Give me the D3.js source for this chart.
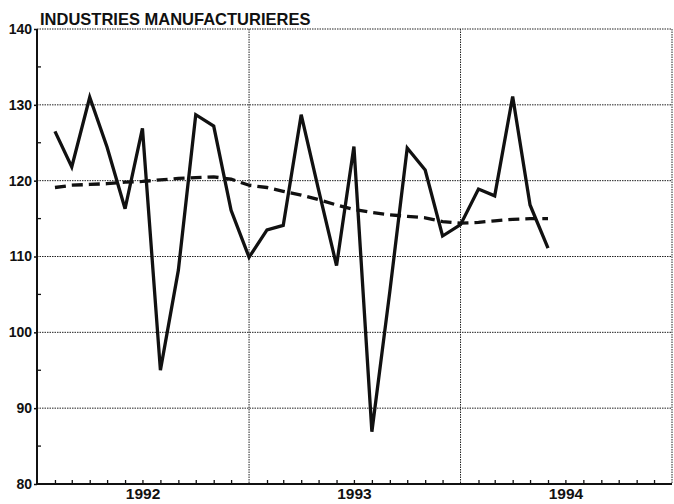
<!DOCTYPE html>
<html>
<head>
<meta charset="utf-8">
<script src="https://cdn.jsdelivr.net/npm/d3@7"></script>
<style>
  body { margin: 0; background: #fff; }
  svg { font-family: "Liberation Sans", Arial, sans-serif; }
  .grid line { stroke: #222; stroke-width: 1; stroke-dasharray: 1.5,1; }
</style>
</head>
<body>
<svg width="674" height="504"></svg>
<script>
// months Feb 1992 .. Jun 1994
const months = ["1992-02","1992-03","1992-04","1992-05","1992-06","1992-07","1992-08","1992-09","1992-10","1992-11","1992-12",
  "1993-01","1993-02","1993-03","1993-04","1993-05","1993-06","1993-07","1993-08","1993-09","1993-10","1993-11","1993-12",
  "1994-01","1994-02","1994-03","1994-04","1994-05","1994-06"];
const raw = [126.5,121.8,131,124.4,116.3,126.9,95,108.2,128.7,127.2,116.1,
  109.9,113.5,114.1,128.7,118.8,108.8,124.5,86.9,105.4,124.3,121.4,112.7,
  114.2,118.9,118.0,131.1,116.8,111.1];
const trend = [119.1,119.4,119.5,119.6,119.8,119.9,120.1,120.3,120.4,120.5,120.2,
  119.4,119.1,118.6,118.1,117.5,116.8,116.2,115.8,115.5,115.3,115.1,114.6,
  114.4,114.5,114.7,114.9,115.0,115.0];
const years = ["1992","1993","1994"];
const yTicks = [80,90,100,110,120,130,140];
const yMinor = [85,95,105,115,125,135];
const title = "INDUSTRIES MANUFACTURIERES";

const svg = d3.select('svg');
const parse = d3.timeParse('%Y-%m');
const m = { left: 37, right: 672, top: 29, bottom: 484 };

const x = d3.scaleTime()
  .domain([new Date(1992,0,1), new Date(1995,0,1)])
  .range([m.left, m.right]);
const y = d3.scaleLinear().domain([80,140]).range([m.bottom, m.top]);

// horizontal grid
svg.append('g').attr('class','grid')
  .selectAll('line').data(yTicks.slice(1)).enter().append('line')
    .attr('x1', m.left).attr('x2', m.right)
    .attr('y1', d => y(d)).attr('y2', d => y(d));

// vertical grid at year starts + right edge
const yearStarts = [new Date(1993,0,1), new Date(1994,0,1), new Date(1995,0,1)];
svg.append('g').attr('class','grid')
  .selectAll('line').data(yearStarts).enter().append('line')
    .attr('x1', d => x(d)).attr('x2', d => x(d))
    .attr('y1', m.top).attr('y2', m.bottom);

// monthly ticks on bottom axis
const monthTicks = d3.timeMonth.range(new Date(1992,1,1), new Date(1995,0,1))
  .filter(d => d.getMonth() !== 0);
const xAxis = d3.axisBottom(x).tickValues(monthTicks).tickSize(-4).tickFormat('');
const xg = svg.append('g').attr('transform', `translate(0,${m.bottom})`).call(xAxis);
xg.select('.domain').remove();
xg.selectAll('.tick line').attr('stroke','#111').attr('stroke-width',1.3);

// left axis
const yAxis = d3.axisLeft(y).tickValues(yTicks).tickSize(3).tickPadding(2).tickFormat(d3.format('d'));
const yg = svg.append('g').attr('transform', `translate(${m.left},0)`).call(yAxis);
yg.select('.domain').remove();
yg.selectAll('.tick line').attr('stroke','#111').attr('stroke-width',1.5);
yg.selectAll('.tick text')
  .attr('font-size', 14).attr('font-weight','bold').attr('fill','#111')
  .attr('font-family','"Liberation Sans", Arial, sans-serif');

svg.append('g').selectAll('line').data(yMinor).enter().append('line')
  .attr('x1', m.left).attr('x2', m.left + 4)
  .attr('y1', d => y(d)).attr('y2', d => y(d))
  .attr('stroke','#111').attr('stroke-width',1.3);

// axis lines
svg.append('line').attr('x1', m.left).attr('x2', m.left).attr('y1', m.top).attr('y2', m.bottom + 1)
  .attr('stroke','#111').attr('stroke-width',2);
svg.append('line').attr('x1', m.left).attr('x2', m.right).attr('y1', m.bottom).attr('y2', m.bottom)
  .attr('stroke','#111').attr('stroke-width',2);

// year labels, centred on each year
svg.append('g').selectAll('text').data(years).enter().append('text')
  .attr('x', d => x(new Date(+d, 6, 2)))
  .attr('y', 499)
  .attr('text-anchor','middle')
  .attr('font-size', 15.5)
  .attr('font-weight','bold')
  .attr('fill','#111')
  .text(d => d);

// title
svg.append('text')
  .attr('x', 40).attr('y', 25)
  .attr('font-size', 16.5).attr('font-weight','bold').attr('fill','#111')
  .text(title);

const rows = months.map((mo, i) => ({ date: parse(mo), raw: raw[i], trend: trend[i] }));

const lineRaw = d3.line().x(d => x(d.date)).y(d => y(d.raw));
const lineTrend = d3.line().x(d => x(d.date)).y(d => y(d.trend));

svg.append('path').datum(rows)
  .attr('d', lineTrend)
  .attr('fill','none').attr('stroke','#111').attr('stroke-width',3.3)
  .attr('stroke-dasharray','11,6');

svg.append('path').datum(rows)
  .attr('d', lineRaw)
  .attr('fill','none').attr('stroke','#111').attr('stroke-width',3.3)
  .attr('stroke-linejoin','miter');
</script>
</body>
</html>
